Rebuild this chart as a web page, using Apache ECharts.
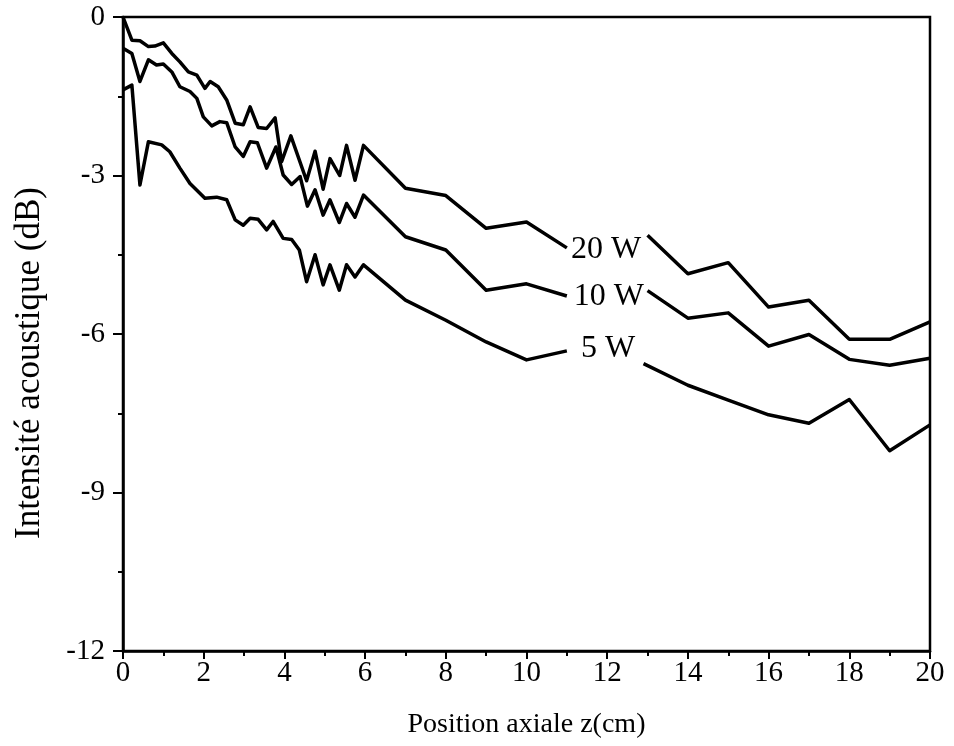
<!DOCTYPE html>
<html>
<head>
<meta charset="utf-8">
<script src="https://cdn.jsdelivr.net/npm/echarts@6/dist/echarts.min.js"></script>
<style>
html,body{margin:0;padding:0;background:#fff;}
#chart{width:954px;height:746px;}
</style>
</head>
<body>
<div id="chart"></div>
<script>
// Position axiale z (cm) and intensity (dB) for each power level
// (null = curve interrupted behind its label)
const x20W = [0, 0.22, 0.42, 0.63, 0.79, 1.0, 1.21, 1.41, 1.62, 1.83, 2.03, 2.16, 2.36, 2.57, 2.78, 2.98, 3.15, 3.35, 3.56, 3.77, 3.93, 4.16, 4.55, 4.76, 4.96, 5.13, 5.37, 5.54, 5.75, 5.96, 7, 8, 9, 10, 11, 12, 13, 14, 15, 16, 17, 18, 19, 20];
const y20W = [0, -0.44, -0.45, -0.56, -0.55, -0.49, -0.69, -0.85, -1.04, -1.10, -1.35, -1.22, -1.32, -1.57, -2.01, -2.04, -1.70, -2.09, -2.11, -1.91, -2.74, -2.25, -3.10, -2.54, -3.26, -2.68, -3.00, -2.43, -3.09, -2.43, -3.24, -3.38, -4.00, -3.88, -4.37, null, -4.13, -4.86, -4.65, -5.49, -5.36, -6.10, -6.10, -5.77];

const x10W = [0, 0.22, 0.42, 0.63, 0.83, 1.0, 1.21, 1.41, 1.66, 1.83, 1.99, 2.2, 2.4, 2.57, 2.78, 2.98, 3.15, 3.33, 3.56, 3.79, 3.97, 4.18, 4.39, 4.57, 4.76, 4.96, 5.13, 5.36, 5.54, 5.75, 5.96, 7, 8, 9, 10, 11, 12, 13, 14, 15, 16, 17, 18, 19, 20];
const y10W = [-0.59, -0.69, -1.22, -0.81, -0.91, -0.89, -1.04, -1.32, -1.41, -1.54, -1.89, -2.06, -1.98, -2.00, -2.46, -2.64, -2.36, -2.38, -2.86, -2.46, -2.99, -3.17, -3.02, -3.58, -3.27, -3.75, -3.46, -3.89, -3.53, -3.79, -3.37, -4.16, -4.41, -5.17, -5.05, -5.28, null, -5.18, -5.70, -5.60, -6.23, -6.01, -6.48, -6.59, -6.46];

const x5W = [0, 0.22, 0.42, 0.63, 0.96, 1.16, 1.41, 1.66, 2.03, 2.32, 2.57, 2.78, 2.98, 3.15, 3.35, 3.56, 3.72, 3.97, 4.18, 4.37, 4.55, 4.76, 4.96, 5.13, 5.36, 5.54, 5.75, 5.96, 7, 8, 9, 10, 11, 12, 12.9, 14, 15, 16, 17, 18, 19, 20];
const y5W = [-1.38, -1.29, -3.18, -2.36, -2.42, -2.55, -2.86, -3.15, -3.43, -3.41, -3.46, -3.84, -3.94, -3.81, -3.83, -4.03, -3.87, -4.19, -4.21, -4.41, -5.01, -4.50, -5.07, -4.69, -5.17, -4.69, -4.92, -4.69, -5.36, -5.74, -6.15, -6.49, -6.32, null, -6.56, -6.97, -7.25, -7.53, -7.69, -7.24, -8.21, -7.72];

const seriesNames = ['20 W', '10 W', '5 W'];
// label anchor (data units) for each curve name
const labelX = [11.97, 12.04, 12.02];
const labelY = [-4.41, -5.30, -6.27];

const xTicks = [0, 2, 4, 6, 8, 10, 12, 14, 16, 18, 20];
const yTicks = [0, -3, -6, -9, -12];

const FONT = '"Liberation Serif", "Times New Roman", serif';

function pairs(xs, ys) { return xs.map((x, i) => [x, ys[i]]); }

const lineStyle = { color: '#000', width: 3.5, join: 'round' };

const chart = echarts.init(document.getElementById('chart'), null, { renderer: 'canvas' });
chart.setOption({
  animation: false,
  backgroundColor: '#fff',
  grid: { left: 123, right: 24, top: 17, bottom: 95, show: true, borderColor: '#000', borderWidth: 2.5, backgroundColor: 'transparent' },
  xAxis: {
    type: 'value', min: 0, max: 20, interval: 2,
    name: 'Position axiale z(cm)', nameLocation: 'middle', nameGap: 60,
    nameTextStyle: { fontFamily: FONT, fontSize: 28, color: '#000' },
    axisLine: { show: true, onZero: false, lineStyle: { color: '#000', width: 2.5 } },
    axisTick: { show: true, inside: false, length: 8, lineStyle: { color: '#000', width: 2 } },
    minorTick: { show: true, splitNumber: 2, length: 5, lineStyle: { color: '#000', width: 2 } },
    axisLabel: { fontFamily: FONT, fontSize: 29, color: '#000', margin: 8,
      formatter: v => xTicks.includes(v) ? String(v) : '' },
    splitLine: { show: false }
  },
  yAxis: {
    type: 'value', min: -12, max: 0, interval: 3,
    axisLine: { show: true, onZero: false, lineStyle: { color: '#000', width: 2.5 } },
    axisTick: { show: true, inside: false, length: 10, lineStyle: { color: '#000', width: 2 } },
    minorTick: { show: true, splitNumber: 2, length: 5, lineStyle: { color: '#000', width: 2 } },
    axisLabel: { fontFamily: FONT, fontSize: 29, color: '#000', margin: 18,
      formatter: v => yTicks.includes(v) ? String(v) : '' },
    splitLine: { show: false }
  },
  graphic: [{
    type: 'text', x: 30, y: 363, rotation: Math.PI / 2,
    style: { text: 'Intensité acoustique (dB)', fontFamily: FONT, fontSize: 35, fill: '#000', align: 'center', verticalAlign: 'middle' }
  }],
  series: [
    { name: seriesNames[0], type: 'line', data: pairs(x20W, y20W), symbol: 'none', lineStyle, connectNulls: false, z: 2 },
    { name: seriesNames[1], type: 'line', data: pairs(x10W, y10W), symbol: 'none', lineStyle, connectNulls: false, z: 2 },
    { name: seriesNames[2], type: 'line', data: pairs(x5W, y5W), symbol: 'none', lineStyle, connectNulls: false, z: 2 },
    {
      type: 'scatter', z: 10, symbolSize: 0, silent: true,
      itemStyle: { color: '#000', opacity: 1 },
      data: seriesNames.map((n, i) => ({ value: [labelX[i], labelY[i]], name: n })),
      label: { show: true, position: 'inside', formatter: p => p.name, fontFamily: FONT, fontSize: 32,
        color: '#000', textBorderWidth: 0, textBorderColor: 'transparent', opacity: 1 }
    }
  ]
});
</script>
</body>
</html>
